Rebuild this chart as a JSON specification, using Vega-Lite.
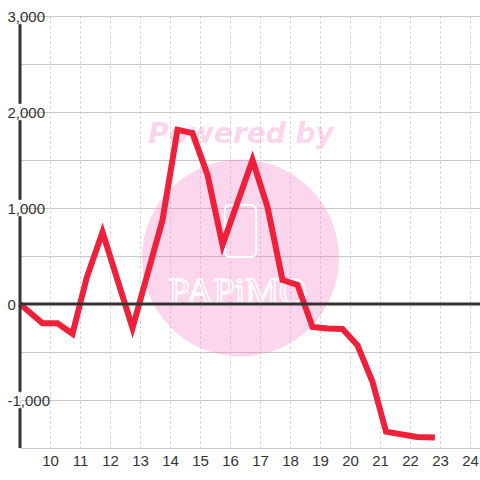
{
  "$schema": "https://vega.github.io/schema/vega-lite/v6.json",
  "width": 460,
  "height": 432,
  "autosize": {"type": "none"},
  "padding": {"left": 20, "top": 16, "right": 0, "bottom": 32},
  "background": "white",
  "config": {
    "view": {"stroke": null},
    "font": "Liberation Sans",
    "axisX": {
      "grid": true, "gridColor": "#c8c8c8", "gridDash": [2, 3], "gridWidth": 1,
      "domain": true, "domainColor": "#c8c8c8", "domainWidth": 1,
      "ticks": false, "labelPadding": 5, "labelFontSize": 15, "labelColor": "#333333",
      "labelFont": "Liberation Sans", "title": null, "labelFlush": false, "labelOverlap": false,
      "labelExpr": "datum.value < 9.5 ? '' : datum.label"
    },
    "axisY": {
      "grid": true, "gridColor": "#c8c8c8", "gridWidth": 1,
      "domain": false,
      "ticks": false, "labelPadding": 13, "labelAlign": "left", "labelBaseline": "middle",
      "labelFontSize": 15, "labelColor": "#333333", "labelFont": "Liberation Sans",
      "title": null, "labelFlush": false, "labelOverlap": false,
      "labelExpr": "datum.value % 1000 == 0 ? (datum.value < 0 ? '-' + format(-datum.value, ',') : format(datum.value, ',')) : ''"
    }
  },
  "layer": [
    {
      "data": {"values": [{}]},
      "mark": {"type": "point", "filled": true, "size": 38800, "color": "#f576c0", "opacity": 0.3},
      "encoding": {
        "x": {"datum": 16.35, "type": "quantitative", "scale": {"domain": [9, 24.333], "nice": false, "zero": false}},
        "y": {"datum": 479, "type": "quantitative", "scale": {"domain": [-1500, 3000], "nice": false, "zero": false}}
      }
    },
    {
      "data": {"values": [{}]},
      "mark": {"type": "text", "text": "Powered by", "font": "DejaVu Sans", "fontWeight": "bold", "fontStyle": "italic", "fontSize": 28, "align": "center", "baseline": "alphabetic", "color": "#f576c0", "opacity": 0.3},
      "encoding": {
        "x": {"datum": 16.37, "type": "quantitative", "scale": {"domain": [9, 24.333], "nice": false, "zero": false}},
        "y": {"datum": 1677, "type": "quantitative", "scale": {"domain": [-1500, 3000], "nice": false, "zero": false}}
      }
    },
    {
      "data": {"values": [{}]},
      "mark": {"type": "rect", "filled": false, "stroke": "white", "strokeWidth": 2, "cornerRadius": 5},
      "encoding": {
        "x": {"datum": 15.83, "type": "quantitative", "scale": {"domain": [9, 24.333], "nice": false, "zero": false}},
        "x2": {"datum": 16.87},
        "y": {"datum": 1031, "type": "quantitative", "scale": {"domain": [-1500, 3000], "nice": false, "zero": false}},
        "y2": {"datum": 490}
      }
    },
    {
      "data": {"values": [{}]},
      "mark": {"type": "text", "text": "PAPiMO", "font": "Liberation Sans Narrow", "fontSize": 38, "align": "center", "baseline": "alphabetic", "fill": "white", "fillOpacity": 0, "stroke": "white", "strokeWidth": 1.5},
      "encoding": {
        "x": {"datum": 16.25, "type": "quantitative", "scale": {"domain": [9, 24.333], "nice": false, "zero": false}},
        "y": {"datum": 0, "type": "quantitative", "scale": {"domain": [-1500, 3000], "nice": false, "zero": false}}
      }
    },
    {
      "data": {"values": [
        {"t": 9.0, "v": 0},
        {"t": 9.75, "v": -200},
        {"t": 10.25, "v": -200},
        {"t": 10.75, "v": -310},
        {"t": 11.22, "v": 270},
        {"t": 11.75, "v": 750},
        {"t": 12.75, "v": -250},
        {"t": 13.75, "v": 875},
        {"t": 14.25, "v": 1815},
        {"t": 14.75, "v": 1780},
        {"t": 15.25, "v": 1345},
        {"t": 15.75, "v": 615},
        {"t": 16.75, "v": 1500},
        {"t": 17.25, "v": 1010},
        {"t": 17.75, "v": 250},
        {"t": 18.25, "v": 200},
        {"t": 18.75, "v": -240},
        {"t": 19.25, "v": -255},
        {"t": 19.75, "v": -260},
        {"t": 20.25, "v": -430},
        {"t": 20.75, "v": -810},
        {"t": 21.2, "v": -1330},
        {"t": 22.23, "v": -1385},
        {"t": 22.83, "v": -1390}
      ]},
      "mark": {"type": "line", "color": "#f0203a", "strokeWidth": 6, "strokeJoin": "miter", "strokeCap": "butt"},
      "encoding": {
        "x": {"field": "t", "type": "quantitative", "scale": {"domain": [9, 24.333], "nice": false, "zero": false}},
        "y": {"field": "v", "type": "quantitative", "scale": {"domain": [-1500, 3000], "nice": false, "zero": false}}
      }
    },
    {
      "data": {"values": [{}]},
      "mark": {"type": "rule", "color": "#333333", "strokeWidth": 3},
      "encoding": {
        "y": {"datum": 0, "type": "quantitative", "scale": {"domain": [-1500, 3000], "nice": false, "zero": false}}
      }
    },
    {
      "data": {"values": [{}]},
      "mark": {"type": "rule", "color": "#333333", "strokeWidth": 3},
      "encoding": {
        "x": {"datum": 9, "type": "quantitative", "scale": {"domain": [9, 24.333], "nice": false, "zero": false}},
        "y": {"datum": -1500, "type": "quantitative", "scale": {"domain": [-1500, 3000], "nice": false, "zero": false}},
        "y2": {"datum": -1085}
      }
    },
    {
      "data": {"values": [{}]},
      "mark": {"type": "rule", "color": "#333333", "strokeWidth": 3},
      "encoding": {
        "x": {"datum": 9, "type": "quantitative", "scale": {"domain": [9, 24.333], "nice": false, "zero": false}},
        "y": {"datum": -915, "type": "quantitative", "scale": {"domain": [-1500, 3000], "nice": false, "zero": false}},
        "y2": {"datum": 915}
      }
    },
    {
      "data": {"values": [{}]},
      "mark": {"type": "rule", "color": "#333333", "strokeWidth": 3},
      "encoding": {
        "x": {"datum": 9, "type": "quantitative", "scale": {"domain": [9, 24.333], "nice": false, "zero": false}},
        "y": {"datum": 1085, "type": "quantitative", "scale": {"domain": [-1500, 3000], "nice": false, "zero": false}},
        "y2": {"datum": 1915}
      }
    },
    {
      "data": {"values": [{}]},
      "mark": {"type": "rule", "color": "#333333", "strokeWidth": 3},
      "encoding": {
        "x": {"datum": 9, "type": "quantitative", "scale": {"domain": [9, 24.333], "nice": false, "zero": false}},
        "y": {"datum": 2085, "type": "quantitative", "scale": {"domain": [-1500, 3000], "nice": false, "zero": false}},
        "y2": {"datum": 2915}
      }
    }
  ]
}
